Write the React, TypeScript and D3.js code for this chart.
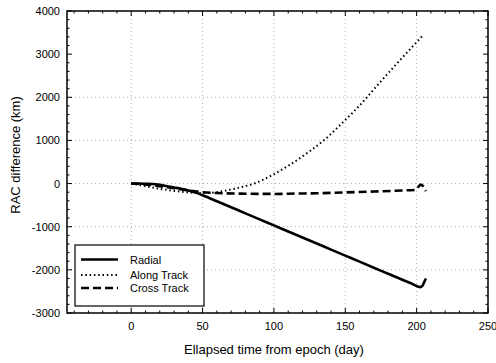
import React from "react";
import * as d3 from "d3";

const radialT = [0, 5, 10, 15, 20, 25, 30, 35, 40, 45, 50, 60, 70, 80, 90, 100, 110, 120, 130, 140, 150, 160, 170, 180, 190, 196, 202.5, 204, 205.5, 206.5];
const radialV = [0, 0, -5, -10, -30, -60, -90, -120, -160, -210, -270, -410, -550, -690, -830, -970, -1110, -1250, -1390, -1530, -1670, -1810, -1950, -2090, -2230, -2310, -2400, -2370, -2270, -2200];

const alongT = [0, 10, 20, 30, 40, 50, 60, 68, 75, 86, 99, 110, 125, 136, 148, 162, 172, 185, 195, 204];
const alongV = [0, -60, -120, -170, -205, -220, -200, -150, -100, 0, 200, 410, 750, 1030, 1410, 1880, 2260, 2740, 3100, 3420];

const crossT = [0, 10, 20, 30, 40, 50, 60, 80, 100, 117, 130, 150, 170, 190, 199, 203, 206.5];
const crossV = [0, -20, -60, -110, -160, -200, -220, -235, -240, -230, -225, -205, -185, -160, -146, -25, -175];

const xMajor = [0, 50, 100, 150, 200, 250];
const yMajor = [-3000, -2000, -1000, 0, 1000, 2000, 3000, 4000];
const xGrid = [0, 50, 100, 150, 200];
const yGrid = [-2000, -1000, 0, 1000, 2000];

const seriesNames = ["Radial", "Along Track", "Cross Track"];

export default function App() {
  const L = 67, R = 488, T = 11, B = 313;
  const x = d3.scaleLinear().domain([-45, 250]).range([L, R]);
  const y = d3.scaleLinear().domain([-3000, 4000]).range([B, T]);
  const font = "Liberation Sans, Arial, sans-serif";

  const mk = (ts: number[], vs: number[]) =>
    d3.line<number>().x((_, i) => x(ts[i])).y((v) => y(v)).curve(d3.curveMonotoneX)(vs) || "";

  const xMinor = d3.range(-40, 251, 10).filter((v) => v % 50 !== 0);
  const yMinor = d3.range(-3000, 4001, 200).filter((v) => v % 1000 !== 0);

  const styles = [
    { sw: 2.6, dash: "none" },
    { sw: 2, dash: "1.5,2.8" },
    { sw: 2.6, dash: "8,4" },
  ];
  const paths = [mk(radialT, radialV), mk(alongT, alongV), mk(crossT, crossV)];

  const lg = { x: 75, y: 245, w: 129, h: 61 };
  const lgRows = [259.5, 275, 288];

  return (
    <svg width={496} height={363} style={{ position: "absolute", left: 0, top: 0, background: "#fff" }}>
      <rect x={0} y={0} width={496} height={363} fill="#fff" />
      <defs>
        <clipPath id="clip">
          <rect x={L} y={T} width={R - L} height={B - T} />
        </clipPath>
      </defs>
      {xGrid.map((v) => (
        <line key={"gx" + v} x1={x(v)} x2={x(v)} y1={T} y2={B} stroke="#999" strokeWidth={0.8} strokeDasharray="1,3" />
      ))}
      {yGrid.map((v) => (
        <line key={"gy" + v} x1={L} x2={R} y1={y(v)} y2={y(v)} stroke="#999" strokeWidth={0.8} strokeDasharray="1,3" />
      ))}
      <g clipPath="url(#clip)">
        {paths.map((p, i) => (
          <path key={i} d={p} fill="none" stroke="#000" strokeWidth={styles[i].sw} strokeDasharray={styles[i].dash} strokeLinejoin="round" />
        ))}
      </g>
      <rect x={lg.x} y={lg.y} width={lg.w} height={lg.h} fill="#fff" stroke="#000" strokeWidth={1.2} />
      {seriesNames.map((n, i) => (
        <g key={n}>
          <line x1={81} x2={118} y1={lgRows[i]} y2={lgRows[i]} stroke="#000" strokeWidth={styles[i].sw} strokeDasharray={styles[i].dash} />
          <text x={130} y={lgRows[i] + 4} fontSize={11} fontFamily={font} fill="#000">{n}</text>
        </g>
      ))}
      <rect x={L} y={T} width={R - L} height={B - T} fill="none" stroke="#000" strokeWidth={1.5} />
      {xMajor.map((v) => (
        <g key={"xt" + v}>
          <line x1={x(v)} x2={x(v)} y1={B} y2={B - 5} stroke="#000" strokeWidth={1} />
          <line x1={x(v)} x2={x(v)} y1={T} y2={T + 5} stroke="#000" strokeWidth={1} />
          <text x={x(v)} y={329.5} textAnchor="middle" fontSize={11} fontFamily={font} fill="#000">{v}</text>
        </g>
      ))}
      {xMinor.map((v) => (
        <g key={"xm" + v}>
          <line x1={x(v)} x2={x(v)} y1={B} y2={B - 2.5} stroke="#000" strokeWidth={1} />
          <line x1={x(v)} x2={x(v)} y1={T} y2={T + 2.5} stroke="#000" strokeWidth={1} />
        </g>
      ))}
      {yMajor.map((v) => (
        <g key={"yt" + v}>
          <line x1={L} x2={L + 5} y1={y(v)} y2={y(v)} stroke="#000" strokeWidth={1} />
          <line x1={R} x2={R - 5} y1={y(v)} y2={y(v)} stroke="#000" strokeWidth={1} />
          <text x={60} y={y(v) + 4} textAnchor="end" fontSize={11} fontFamily={font} fill="#000">{v}</text>
        </g>
      ))}
      {yMinor.map((v) => (
        <g key={"ym" + v}>
          <line x1={L} x2={L + 2.5} y1={y(v)} y2={y(v)} stroke="#000" strokeWidth={1} />
          <line x1={R} x2={R - 2.5} y1={y(v)} y2={y(v)} stroke="#000" strokeWidth={1} />
        </g>
      ))}
      <text x={x(100)} y={354} textAnchor="middle" fontSize={13} fontFamily={font} fill="#000">
        Ellapsed time from epoch (day)
      </text>
      <text transform={`translate(20,155) rotate(-90)`} textAnchor="middle" fontSize={13} fontFamily={font} fill="#000">
        RAC difference (km)
      </text>
    </svg>
  );
}
